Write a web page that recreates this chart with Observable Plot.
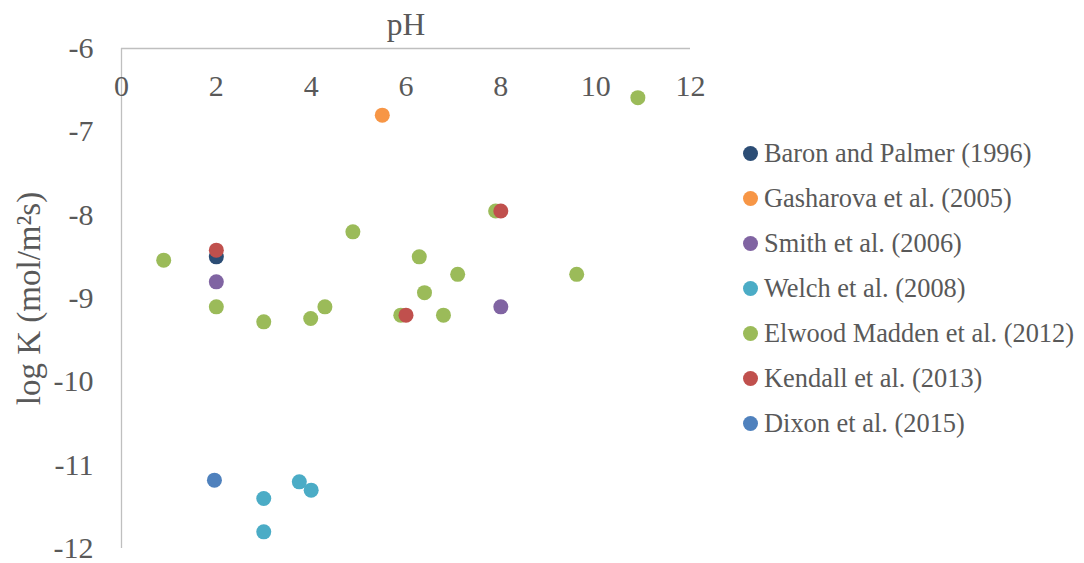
<!DOCTYPE html>
<html>
<head>
<meta charset="utf-8">
<script src="https://cdn.jsdelivr.net/npm/d3@7"></script>
<script src="https://cdn.jsdelivr.net/npm/@observablehq/plot@0.6"></script>
<style>
  html, body { margin: 0; padding: 0; background: #fff; }
  #wrap { position: relative; width: 1084px; height: 563px; font-family: "Liberation Serif", "Times New Roman", serif; }
  #wrap svg text { font-family: "Liberation Serif", "Times New Roman", serif; }
  #legend { position: absolute; left: 743px; top: 131px; color: #595959; font-size: 26.4px; }
  .row { height: 45px; display: flex; align-items: center; white-space: nowrap; }
  .sw { width: 15px; height: 15px; border-radius: 50%; margin-right: 6px; flex: none; }
</style>
</head>
<body>
<div id="wrap"><div id="legend"></div></div>
<script>
const seriesNames = [
  "Baron and Palmer (1996)",
  "Gasharova et al. (2005)",
  "Smith et al. (2006)",
  "Welch et al. (2008)",
  "Elwood Madden et al. (2012)",
  "Kendall et al. (2013)",
  "Dixon et al. (2015)"
];
const seriesColors = ["#2C4D75", "#F79646", "#8064A2", "#4BACC6", "#9BBB59", "#C0504D", "#4F81BD"];

const baronPH = [2.0];               const baronLogK = [-8.50];
const gasharovaPH = [5.5];           const gasharovaLogK = [-6.80];
const smithPH = [2.0, 8.0];          const smithLogK = [-8.80, -9.10];
const welchPH = [3.0, 3.0, 3.75, 4.0];
const welchLogK = [-11.40, -11.80, -11.20, -11.30];
const elwoodPH = [0.89, 2.0, 3.0, 3.99, 4.29, 4.88, 5.89, 6.28, 6.39, 6.79, 7.09, 7.89, 9.6, 10.89];
const elwoodLogK = [-8.54, -9.10, -9.28, -9.24, -9.10, -8.20, -9.20, -8.50, -8.93, -9.20, -8.71, -7.95, -8.71, -6.59];
const kendallPH = [2.0, 8.0, 6.0];   const kendallLogK = [-8.42, -7.95, -9.20];
const dixonPH = [1.96];              const dixonLogK = [-11.18];

const xTicks = [0, 2, 4, 6, 8, 10, 12];
const yTicks = [-6, -7, -8, -9, -10, -11, -12];

const seriesData = [
  [baronPH, baronLogK], [gasharovaPH, gasharovaLogK], [smithPH, smithLogK],
  [welchPH, welchLogK], [elwoodPH, elwoodLogK], [kendallPH, kendallLogK], [dixonPH, dixonLogK]
];
const points = [];
seriesData.forEach(([xs, ys], i) => xs.forEach((x, j) => points.push({series: seriesNames[i], pH: x, logK: ys[j]})));

const gray = "#595959";
const chart = Plot.plot({
  width: 1084,
  height: 563,
  marginLeft: 121,
  marginRight: 394,
  marginTop: 48,
  marginBottom: 15,
  style: {fontFamily: "'Liberation Serif', serif", color: gray, background: "#fff"},
  x: {domain: [0, 12], axis: null},
  y: {domain: [-12, -6], axis: null},
  color: {domain: seriesNames, range: seriesColors},
  marks: [
    Plot.ruleY([-6], {stroke: "#BFBFBF", strokeWidth: 1.3}),
    Plot.ruleX([0], {stroke: "#BFBFBF", strokeWidth: 1.3}),
    Plot.text(yTicks, {x: 0, y: d => d, dx: -28, text: d => String(d), textAnchor: "end", fontSize: 30, fill: gray, lineAnchor: "middle"}),
    Plot.text(xTicks, {x: d => d, y: -6, dy: 38, text: d => String(d), fontSize: 30, fill: gray, lineAnchor: "middle"}),
    Plot.text(["pH"], {frameAnchor: "top", dy: -24, fontSize: 31.5, fill: gray, textAnchor: "middle", lineAnchor: "middle"}),
    Plot.text(["log K (mol/m²s)"], {frameAnchor: "left", dx: -92, rotate: -90, fontSize: 33, fill: gray, textAnchor: "middle", lineAnchor: "middle"}),
    Plot.dot(points, {x: "pH", y: "logK", fill: "series", r: 7.5, stroke: "none"})
  ]
});
document.getElementById("wrap").prepend(chart);

const legend = d3.select("#legend");
seriesNames.forEach((name, i) => {
  const row = legend.append("div").attr("class", "row");
  row.append("div").attr("class", "sw").style("background", seriesColors[i]);
  row.append("span").text(name);
});
</script>
</body>
</html>
